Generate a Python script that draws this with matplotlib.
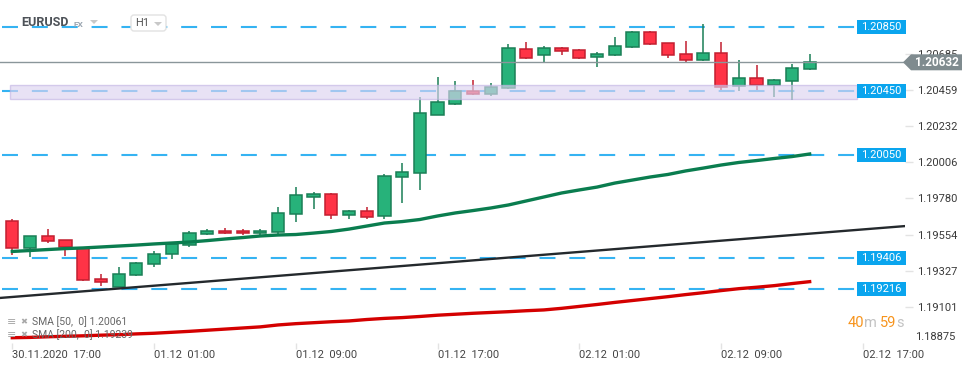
import matplotlib.pyplot as plt
import matplotlib.transforms as mtransforms
from matplotlib.patches import Rectangle, Polygon, FancyBboxPatch

plt.rcParams['font.family'] = ['Roboto', 'DejaVu Sans']
plt.rcParams['lines.scale_dashes'] = False

W, H = 974, 368

# hourly EURUSD candles, 30.11.2020 17:00 -> 02.12.2020 14:00
opens = [1.19637, 1.19468, 1.19543, 1.19518, 1.19468, 1.19274, 1.19227, 1.19299, 1.19368, 1.19430,
         1.19486, 1.19555, 1.19574, 1.19574, 1.19562, 1.19568, 1.19680, 1.19791, 1.19806, 1.19678,
         1.19699, 1.19668, 1.19916, 1.19937, 1.20304, 1.20369, 1.20450, 1.20432, 1.20469, 1.20713,
         1.20676, 1.20720, 1.20707, 1.20663, 1.20676, 1.20726, 1.20820, 1.20751, 1.20682, 1.20645,
         1.20688, 1.20482, 1.20532, 1.20488, 1.20513, 1.20588]
highs = [1.19651, 1.19545, 1.19588, 1.19520, 1.19470, 1.19307, 1.19351, 1.19382, 1.19451, 1.19495,
         1.19574, 1.19588, 1.19593, 1.19587, 1.19587, 1.19726, 1.19851, 1.19820, 1.19812, 1.19707,
         1.19726, 1.19931, 1.20002, 1.20413, 1.20540, 1.20515, 1.20521, 1.20502, 1.20747, 1.20759,
         1.20734, 1.20728, 1.20717, 1.20696, 1.20790, 1.20830, 1.20830, 1.20753, 1.20765, 1.20872,
         1.20759, 1.20646, 1.20613, 1.20526, 1.20620, 1.20682]
lows = [1.19426, 1.19415, 1.19503, 1.19421, 1.19266, 1.19234, 1.19225, 1.19297, 1.19352, 1.19403,
        1.19478, 1.19553, 1.19560, 1.19549, 1.19549, 1.19553, 1.19630, 1.19716, 1.19653, 1.19649,
        1.19649, 1.19653, 1.19753, 1.19834, 1.20302, 1.20367, 1.20430, 1.20421, 1.20467, 1.20655,
        1.20636, 1.20680, 1.20651, 1.20604, 1.20674, 1.20724, 1.20743, 1.20661, 1.20636, 1.20643,
        1.20461, 1.20454, 1.20461, 1.20417, 1.20398, 1.20582]
closes = [1.19468, 1.19543, 1.19511, 1.19476, 1.19267, 1.19255, 1.19305, 1.19374, 1.19430, 1.19493,
          1.19562, 1.19574, 1.19562, 1.19562, 1.19574, 1.19687, 1.19801, 1.19806, 1.19678, 1.19699,
          1.19665, 1.19918, 1.19943, 1.20313, 1.20382, 1.20450, 1.20432, 1.20476, 1.20720, 1.20657,
          1.20720, 1.20701, 1.20657, 1.20682, 1.20732, 1.20820, 1.20745, 1.20676, 1.20645, 1.20688,
          1.20476, 1.20532, 1.20488, 1.20519, 1.20594, 1.20632]

sma50 = [1.19448, 1.19454, 1.19460, 1.19466, 1.19470, 1.19476, 1.19482, 1.19488, 1.19495, 1.19501,
         1.19507, 1.19516, 1.19526, 1.19535, 1.19545, 1.19551, 1.19554, 1.19563, 1.19573, 1.19588,
         1.19607, 1.19626, 1.19635, 1.19648, 1.19670, 1.19689, 1.19704, 1.19720, 1.19739, 1.19764,
         1.19789, 1.19814, 1.19833, 1.19851, 1.19876, 1.19895, 1.19914, 1.19930, 1.19952, 1.19970,
         1.19989, 1.20005, 1.20017, 1.20030, 1.20042, 1.20058]
sma200 = [1.18908, 1.18910, 1.18914, 1.18917, 1.18920, 1.18924, 1.18927, 1.18932, 1.18936, 1.18942,
          1.18948, 1.18955, 1.18962, 1.18969, 1.18976, 1.18988, 1.18996, 1.19002, 1.19008, 1.19013,
          1.19022, 1.19029, 1.19034, 1.19041, 1.19049, 1.19055, 1.19061, 1.19066, 1.19071, 1.19077,
          1.19082, 1.19092, 1.19104, 1.19116, 1.19129, 1.19141, 1.19153, 1.19165, 1.19178, 1.19190,
          1.19203, 1.19215, 1.19224, 1.19234, 1.19247, 1.19259]

levels = [1.20850, 1.20450, 1.20050, 1.19406, 1.19216]
level_labels = ['1.20850', '1.20450', '1.20050', '1.19406', '1.19216']
band_lo, band_hi = 1.20402, 1.20490
trend_x = [-0.70, 50.40]
trend_y = [1.19157, 1.19607]
last_price = 1.20632

ytick_vals = [1.20685, 1.20459, 1.20232, 1.20006, 1.19780, 1.19554, 1.19327, 1.19101]
ybottom_label = '1.18875'
xtick_pos = [0, 8, 16, 24, 32, 40, 48]
xtick_labels = ['30.11.2020  17:00', '01.12  01:00', '01.12  09:00', '01.12  17:00',
                '02.12  01:00', '02.12  09:00', '02.12  17:00']

fig = plt.figure(figsize=(W / 100, H / 100), dpi=100)
ax = fig.add_axes([0, 25 / H, 905 / W, 343 / H])
ax.set_xlim(-0.694, 50.38)
ax.set_ylim(1.18875, 1.21022)
for s in ax.spines.values():
    s.set_visible(False)

# x in pixels from the left, y in price
xpix = mtransforms.Affine2D().scale(1, -1).translate(0, H)
xpix_ydata = mtransforms.blended_transform_factory(xpix, ax.transData)


def ypx(price):
    return H - ax.transData.transform((0, price))[1]


# horizontal levels
for lv in levels:
    ax.plot([2, 857], [lv, lv], transform=xpix_ydata, color='#35b3f2', lw=1.5,
            dashes=(11.5, 10), zorder=1)

# candles
for i in range(len(opens)):
    o, h, l, c = opens[i], highs[i], lows[i], closes[i]
    up = c >= o
    face = '#27b27a' if up else '#ff3346'
    edge = '#1a7f56' if up else '#c21f30'
    ax.vlines(i, l, h, color=edge, lw=1.1, zorder=2)
    lo, hi = min(o, c), max(o, c)
    ax.bar(i, max(hi - lo, 0.00004), bottom=lo, width=0.69, color=face,
           edgecolor=edge, lw=1.1, zorder=3)

# support zone
ax.add_patch(Rectangle((10, band_lo), 847, band_hi - band_lo, transform=xpix_ydata,
                       fc='#dcd3f0', alpha=0.65, ec='#c3b5e3', lw=1, zorder=4))

idx = list(range(len(sma50)))
ax.plot(trend_x, trend_y, color='#24292d', lw=1.7, zorder=5)
ax.plot(idx, sma50, color='#0a7d4f', lw=2.4, zorder=5)
ax.plot(idx, sma200, color='#d40000', lw=2.4, zorder=5)
ax.axhline(last_price, color='#8a969a', lw=1.0, zorder=6)

# axes ticks
ax.yaxis.tick_right()
ax.set_yticks(ytick_vals)
ax.set_yticklabels([f'{v:.5f}' for v in ytick_vals])
ax.tick_params(axis='y', length=6, width=1, color='#e3e3e3', labelsize=8,
               labelcolor='#3a3a3a', pad=3)
ax.set_xticks(xtick_pos)
ax.set_xticklabels(xtick_labels, ha='left')
ax.tick_params(axis='x', length=4, width=1, color='#e3e3e3', labelsize=8,
               labelcolor='#444444', pad=1)

fig.text(915 / W, 1 - 337 / H, ybottom_label, fontsize=8, color='#3a3a3a',
         ha='left', va='center')

# level labels
for lv, lab in zip(levels, level_labels):
    yc = ypx(lv)
    fig.add_artist(Rectangle((857, yc - 7), 49, 14, transform=xpix,
                             fc='#0aa5ee', ec='none', zorder=8))
    fig.text(881.5 / W, 1 - yc / H, lab, fontsize=8, color='white',
             ha='center', va='center', zorder=9)

# last price marker
yc = ypx(last_price)
fig.add_artist(Polygon([(903, yc), (911, yc - 8), (962, yc - 8), (962, yc + 8), (911, yc + 8)],
                       closed=True, transform=xpix, fc='#7f8b8f', ec='none', zorder=8))
fig.text(936.5 / W, 1 - yc / H, f'{last_price:.5f}', fontsize=8.5, fontweight='bold',
         color='white', ha='center', va='center', zorder=9)

# header
fig.text(21 / W, 1 - 23 / H, 'EURUSD', fontsize=9, fontweight='bold', color='#4d5258',
         va='center')
fig.text(74 / W, 1 - 24.5 / H, 'FX', fontsize=6, fontweight='bold', color='#9aa5b0',
         va='center')
fig.add_artist(Polygon([(90, 20), (98, 20), (94, 24)], transform=xpix, fc='#c8c8c8', ec='none'))
fig.add_artist(FancyBboxPatch((131, 15), 35, 16, boxstyle='round,pad=0,rounding_size=3',
                              transform=xpix, fc='white', ec='#e2e2e2', lw=1))
fig.text(135 / W, 1 - 23.5 / H, 'H1', fontsize=8, color='#555555', va='center')
fig.add_artist(Polygon([(154, 22), (162, 22), (158, 26)], transform=xpix, fc='#c8c8c8', ec='none'))

# indicator legend
for yy, txt in [(322, 'SMA [50,  0] 1.20061'), (335, 'SMA [200,  0] 1.19239')]:
    fig.text(7 / W, 1 - yy / H, '≡', fontsize=8, color='#a8a8a8', va='center', zorder=0)
    fig.text(20 / W, 1 - yy / H, '✖', fontsize=6, color='#a8a8a8', va='center', zorder=0)
    fig.text(32 / W, 1 - yy / H, txt, fontsize=7.5, color='#666666', va='center', zorder=0)

# countdown
for x0, txt, col in [(848, '40', '#f7941d'), (864, 'm', '#c2c2c2'),
                     (880, '59', '#f7941d'), (896, 's', '#c2c2c2')]:
    fig.text(x0 / W, 1 - 323 / H, txt, fontsize=10.5, color=col, va='center')

fig.savefig('out.png', dpi=100)
